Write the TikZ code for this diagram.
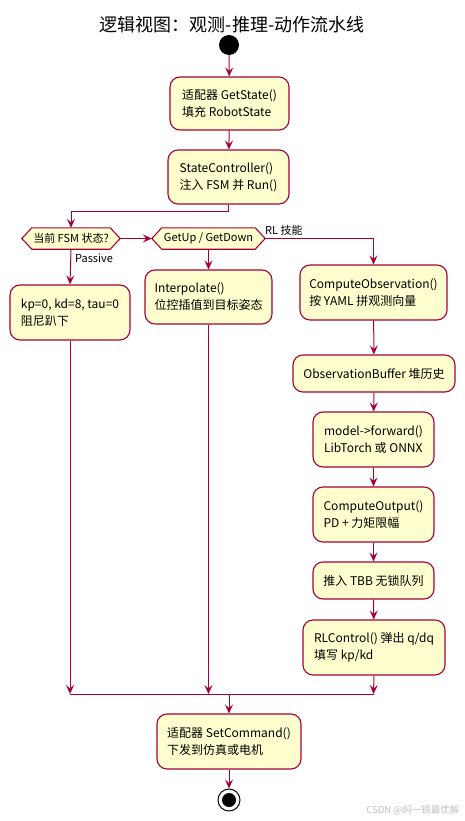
\documentclass[tikz,border=0pt]{standalone}
\usepackage{fontspec}
\setmainfont{Noto Sans CJK SC}
\usetikzlibrary{arrows.meta,backgrounds,calc}
\definecolor{pborder}{HTML}{A80036}
\definecolor{pfill}{HTML}{FEFECE}
\begin{document}
\begin{tikzpicture}[x=1pt,y=-1pt,
  act/.style={draw=pborder,fill=pfill,line width=1.1pt,rounded corners=10pt,align=left,font=\fontsize{12}{17}\selectfont,inner sep=0pt},
  hexlbl/.style={inner sep=0pt,font=\fontsize{11}{13}\selectfont},
  hex/.style={draw=pborder,fill=pfill,line width=1.1pt},
  flow/.style={draw=pborder,line width=1pt,-{Stealth[length=9pt,width=8pt,inset=3.5pt]}},
  line/.style={draw=pborder,line width=1pt},
  lbl/.style={font=\fontsize{11}{13}\selectfont,inner sep=0pt}]
\useasboundingbox (0,0) rectangle (465,821);
\node[font=\fontsize{18}{21}\selectfont] (title) at (232,25) {逻辑视图：观测-推理-动作流水线};
\node[circle,fill=black,minimum size=20pt,inner sep=0pt] (start) at (229,45) {};
\node[act,minimum width=119pt,minimum height=53pt] (b1) at (229.5,103.5) {适配器 GetState()\\填充 RobotState};
\node[act,minimum width=121pt,minimum height=54pt] (b2) at (228.5,177) {StateController()\\注入 FSM 并 Run()};
\node[hexlbl,minimum width=98pt,minimum height=21pt] (d1) at (71,238.5) {当前 FSM 状态?};
\node[hexlbl,minimum width=113pt,minimum height=21pt] (d2) at (208.5,238.5) {GetUp / GetDown};
\begin{scope}[on background layer]
\foreach \d in {d1,d2}{
\draw[hex] ([xshift=10pt]\d.north west) -- ([xshift=-10pt]\d.north east) -- (\d.east) -- ([xshift=-10pt]\d.south east) -- ([xshift=10pt]\d.south west) -- (\d.west) -- cycle;}
\end{scope}
\node[act,minimum width=120pt,minimum height=55pt] (kp) at (70,312.5) {kp=0, kd=8, tau=0\\阻尼趴下};
\node[act,minimum width=127pt,minimum height=54pt] (ip) at (208.5,297) {Interpolate()\\位控插值到目标姿态};
\node[act,minimum width=147pt,minimum height=55pt] (obs) at (373.5,292.5) {ComputeObservation()\\按 YAML 拼观测向量};
\node[act,minimum width=162pt,minimum height=37pt] (buf) at (374,373.5) {ObservationBuffer 堆历史};
\node[act,minimum width=121pt,minimum height=55pt] (fwd) at (373.5,439.5) {model->forward()\\LibTorch 或 ONNX};
\node[act,minimum width=121pt,minimum height=55pt] (out) at (373.5,514.5) {ComputeOutput()\\PD + 力矩限幅};
\node[act,minimum width=121pt,minimum height=37pt] (tbb) at (373.5,580.5) {推入 TBB 无锁队列};
\node[act,minimum width=142pt,minimum height=55pt] (rl) at (374,647.5) {RLControl() 弹出 q/dq\\填写 kp/kd};
\node[act,minimum width=144pt,minimum height=55pt] (set) at (229,741.5) {适配器 SetCommand()\\下发到仿真或电机};
\node[circle,draw=black,line width=1pt,fill=white,minimum size=22pt,inner sep=0pt] (stop) at (229,800) {};
\node[circle,fill=black,minimum size=14pt,inner sep=0pt] at (stop.center) {};
\coordinate (bl) at (70,694);
\coordinate (bm) at (208.5,694);
\coordinate (br) at (373.5,694);
\coordinate (bc) at (229,694);
\draw[flow] (start) -- (b1);
\draw[flow] (b1) -- (b2);
\draw[flow] (b2.south) -- ++(0,7) -| (d1.north);
\draw[flow] (d1.east) -- (d2.west);
\draw[flow] (d2.east) -| (obs.north);
\node[lbl,anchor=south west] (rllbl) at (265,236) {RL 技能};
\draw[flow] (d1.south) -- (kp.north);
\node[lbl,anchor=west] (paslbl) at (75,258) {Passive};
\draw[flow] (d2.south) -- (ip.north);
\draw[flow] (obs) -- (buf);
\draw[flow] (buf) -- (fwd);
\draw[flow] (fwd) -- (out);
\draw[flow] (out) -- (tbb);
\draw[flow] (tbb) -- (rl);
\draw[flow] (kp.south) -- (bl);
\draw[flow] (ip.south) -- (bm);
\draw[flow] (rl.south) -- (br);
\draw[line] (bl) -- (br);
\draw[flow] (bc) -- (set.north);
\draw[flow] (set) -- (stop);
\node[font=\fontsize{9.5}{10}\selectfont,text=black!25,anchor=east] (wm) at (463,810) {CSDN @焖一锅最优解};
\end{tikzpicture}
\end{document}
